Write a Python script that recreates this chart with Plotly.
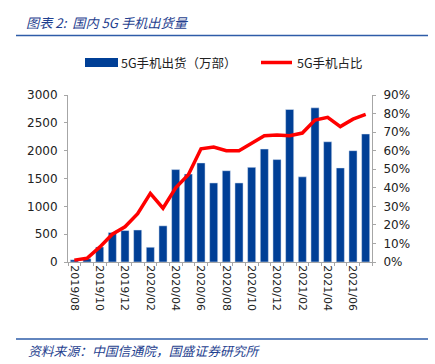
import plotly.graph_objects as go

months = ["2019/08","2019/09","2019/10","2019/11","2019/12","2020/01","2020/02","2020/03",
          "2020/04","2020/05","2020/06","2020/07","2020/08","2020/09","2020/10","2020/11",
          "2020/12","2021/01","2021/02","2021/03","2021/04","2021/05","2021/06","2021/07"]
shipments = [40, 60, 270, 530, 565, 575, 265, 650, 1660, 1580, 1780, 1420,
             1640, 1420, 1700, 2030, 1840, 2740, 1530, 2770, 2160, 1690, 2000, 2300]
share = [0.01, 0.02, 0.08, 0.15, 0.19, 0.26, 0.37, 0.29, 0.40, 0.47, 0.61, 0.62,
         0.60, 0.60, 0.64, 0.68, 0.685, 0.68, 0.695, 0.765, 0.78, 0.73, 0.77, 0.795]
tick_labels = [m if i % 2 == 0 else "" for i, m in enumerate(months)]

W, H = 435, 364
L, R, T, B = 68, 372, 95, 262
def px(x): return (x - L) / (R - L)
def py(y): return (B - y) / (B - T)

BLUE = "#003f96"
RED = "#ff0000"
AX = "#a6a6a6"
CJK = "Noto Sans CJK SC"
NUM = "DejaVu Sans"

fig = go.Figure()
fig.add_trace(go.Bar(x=months, y=shipments, marker_color=BLUE, name="5G手机出货（万部）",
                     yaxis="y"))
fig.add_trace(go.Scatter(x=months, y=share, mode="lines", line=dict(color=RED, width=3.5),
                         name="5G手机占比", yaxis="y2"))

fig.update_layout(
    width=W, height=H, showlegend=False,
    margin=dict(l=L, r=W - R, t=T, b=H - B),
    paper_bgcolor="white", plot_bgcolor="white",
    bargap=0.36,
    xaxis=dict(type="category", tickvals=months, ticktext=tick_labels, tickangle=90,
               tickson="boundaries", ticks="outside", ticklen=3, tickcolor=AX,
               showline=True, linecolor=AX, linewidth=1, showgrid=False,
               tickfont=dict(family=NUM, size=11, color="#222")),
    yaxis=dict(range=[0, 3000], dtick=500, showgrid=False, zeroline=False,
               showline=True, linecolor=AX, ticks="outside", ticklen=3, tickcolor=AX,
               ticklabelstandoff=4,
               tickfont=dict(family=NUM, size=12, color="#222")),
    yaxis2=dict(range=[0, 0.9], dtick=0.1, tickformat=".0%", overlaying="y", side="right",
                showgrid=False, zeroline=False, showline=True, linecolor=AX,
                ticks="outside", ticklen=3, tickcolor=AX, ticklabelstandoff=5,
                tickfont=dict(family=NUM, size=12, color="#222")),
)

shapes = [
    dict(type="line", xref="paper", yref="paper", x0=px(16), x1=px(428), y0=py(35.5), y1=py(35.5),
         line=dict(color="#2e5ca8", width=1.5)),
    dict(type="line", xref="paper", yref="paper", x0=px(16), x1=px(428), y0=py(339), y1=py(339),
         line=dict(color="#2e5ca8", width=1.5)),
    dict(type="rect", xref="paper", yref="paper", x0=px(85), x1=px(118), y0=py(67), y1=py(58),
         fillcolor=BLUE, line=dict(width=0)),
    dict(type="line", xref="paper", yref="paper", x0=px(261), x1=px(292), y0=py(62.5), y1=py(62.5),
         line=dict(color=RED, width=3.5)),
]
fig.update_layout(shapes=shapes)

annotations = [
    dict(text="<i>图表 2:  国内 5G 手机出货量</i>", xref="paper", yref="paper", x=px(24), y=py(23),
         xanchor="left", yanchor="middle", showarrow=False,
         font=dict(family=CJK, size=13.2, color="#1f3f8f")),
    dict(text="5G手机出货（万部）", xref="paper", yref="paper", x=px(119), y=py(62.5),
         xanchor="left", yanchor="middle", showarrow=False,
         font=dict(family=CJK, size=12.5, color="#222")),
    dict(text="5G手机占比", xref="paper", yref="paper", x=px(295), y=py(62.5),
         xanchor="left", yanchor="middle", showarrow=False,
         font=dict(family=CJK, size=12.5, color="#222")),
    dict(text="<i>资料来源：中国信通院，国盛证券研究所</i>", xref="paper", yref="paper", x=px(26), y=py(350),
         xanchor="left", yanchor="middle", showarrow=False,
         font=dict(family=CJK, size=12.8, color="#1f3f8f")),
]
fig.update_layout(annotations=annotations)

fig.write_html("out.html", config={"displayModeBar": False},
               post_script="document.body.style.margin='0px';")
